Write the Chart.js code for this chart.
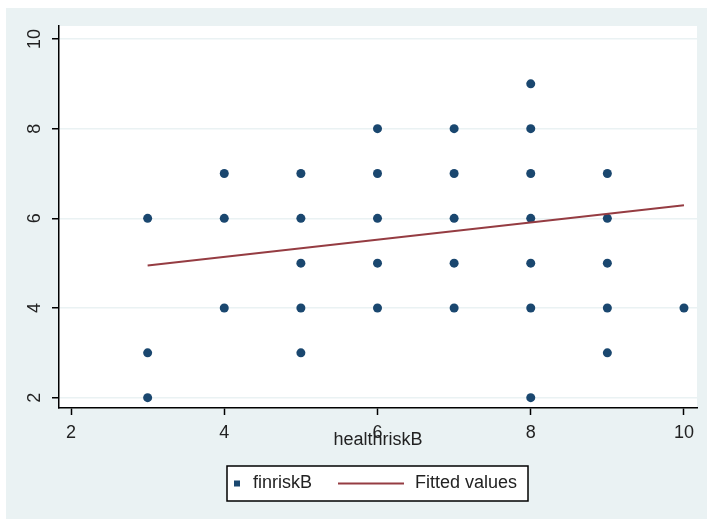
<!DOCTYPE html>
<html>
<head>
<meta charset="utf-8">
<script src="https://cdn.jsdelivr.net/npm/chart.js@4.4.1/dist/chart.umd.min.js"></script>
<style>
  body { margin: 0; background: #fff; }
  canvas { display: block; }
</style>
</head>
<body>
<canvas id="scatter-chart" width="707" height="519"></canvas>
<script>
// observed values
const healthriskB = [3, 3, 3, 4, 4, 4, 5, 5, 5, 5, 5, 6, 6, 6, 6, 6, 7, 7, 7, 7, 7, 8, 8, 8, 8, 8, 8, 8, 9, 9, 9, 9, 9, 10];
const finriskB    = [6, 3, 2, 7, 6, 4, 7, 6, 5, 4, 3, 8, 7, 6, 5, 4, 8, 7, 6, 5, 4, 9, 8, 7, 6, 5, 4, 2, 7, 6, 5, 4, 3, 4];
// fitted line end points
const fitX = [3, 10];
const fitY = [4.95, 6.29];
const xTicks = [2, 4, 6, 8, 10];
const yTicks = [2, 4, 6, 8, 10];

const navy = '#1a476f';
const maroon = '#953c42';
const bgColor = '#eaf2f3';
const fontFamily = '"Liberation Sans", Arial, sans-serif';
const fontSize = 18;

const stataLook = {
  id: 'stataLook',
  beforeDraw(chart) {
    const { ctx, chartArea: a } = chart;
    ctx.save();
    ctx.fillStyle = '#fff';
    ctx.fillRect(0, 0, chart.width, chart.height);
    ctx.fillStyle = bgColor;
    ctx.fillRect(6, 8, chart.width - 6, chart.height - 8);
    ctx.fillStyle = '#fff';
    ctx.fillRect(a.left, a.top, a.right - a.left, a.bottom - a.top);
    ctx.restore();
  },
  afterDraw(chart) {
    const { ctx, chartArea: a } = chart;
    const y = chart.scales.y;
    ctx.save();
    ctx.fillStyle = '#222';
    ctx.font = fontSize + 'px ' + fontFamily;
    // rotated y tick labels
    ctx.textAlign = 'center';
    ctx.textBaseline = 'middle';
    y.ticks.forEach(t => {
      const py = y.getPixelForValue(t.value);
      ctx.save();
      ctx.translate(35, py);
      ctx.rotate(-Math.PI / 2);
      ctx.fillText(String(t.value), 0, 0);
      ctx.restore();
    });
    // x axis title
    ctx.fillText('healthriskB', (a.left + a.right) / 2, 440);

    // legend box
    const bx = 227, by = 466, bw = 301, bh = 35;
    ctx.fillStyle = '#fff';
    ctx.fillRect(bx, by, bw, bh);
    ctx.strokeStyle = '#000';
    ctx.lineWidth = 1.5;
    ctx.strokeRect(bx, by, bw, bh);
    const ds = chart.data.datasets;
    const scat = ds.find(d => d.type === 'scatter');
    const fit = ds.find(d => d.type === 'line');
    const cy = by + bh / 2;
    ctx.fillStyle = scat.backgroundColor;
    ctx.fillRect(234, cy - 3, 6, 6);
    ctx.strokeStyle = fit.borderColor;
    ctx.lineWidth = 2;
    ctx.beginPath();
    ctx.moveTo(338, cy);
    ctx.lineTo(404, cy);
    ctx.stroke();
    ctx.fillStyle = '#222';
    ctx.textAlign = 'left';
    ctx.fillText(scat.label, 253, cy);
    ctx.fillText(fit.label, 415, cy);
    ctx.restore();
  }
};

new Chart(document.getElementById('scatter-chart'), {
  type: 'scatter',
  data: {
    datasets: [
      {
        type: 'scatter',
        label: 'finriskB',
        data: healthriskB.map((x, i) => ({ x: x, y: finriskB[i] })),
        backgroundColor: navy,
        borderWidth: 0,
        pointRadius: 4.5,
        order: 1
      },
      {
        type: 'line',
        label: 'Fitted values',
        data: fitX.map((x, i) => ({ x: x, y: fitY[i] })),
        borderColor: maroon,
        borderWidth: 2,
        pointRadius: 0,
        fill: false,
        order: 0
      }
    ]
  },
  options: {
    responsive: false,
    animation: false,
    events: [],
    layout: { padding: { left: 0, top: 26, right: 10, bottom: 0 } },
    plugins: { legend: { display: false }, tooltip: { enabled: false } },
    scales: {
      x: {
        type: 'linear',
        min: 1.843,
        max: 10.17,
        afterBuildTicks: s => { s.ticks = xTicks.map(v => ({ value: v })); },
        afterFit: s => { s.height = 111; },
        grid: { color: 'rgba(0,0,0,0)', tickColor: '#000', tickLength: 7, tickWidth: 1.5 },
        border: { color: '#000', width: 1.5 },
        ticks: {
          color: '#222',
          padding: 7,
          maxRotation: 0,
          font: { family: fontFamily, size: fontSize }
        }
      },
      y: {
        type: 'linear',
        min: 1.77,
        max: 10.29,
        afterBuildTicks: s => { s.ticks = yTicks.map(v => ({ value: v })); },
        afterFit: s => { s.width = 59; },
        grid: { color: bgColor, lineWidth: 1.5, tickColor: '#000', tickLength: 7, tickWidth: 1.5 },
        border: { color: '#000', width: 1.5 },
        ticks: { display: false }
      }
    }
  },
  plugins: [stataLook]
});
</script>
</body>
</html>
